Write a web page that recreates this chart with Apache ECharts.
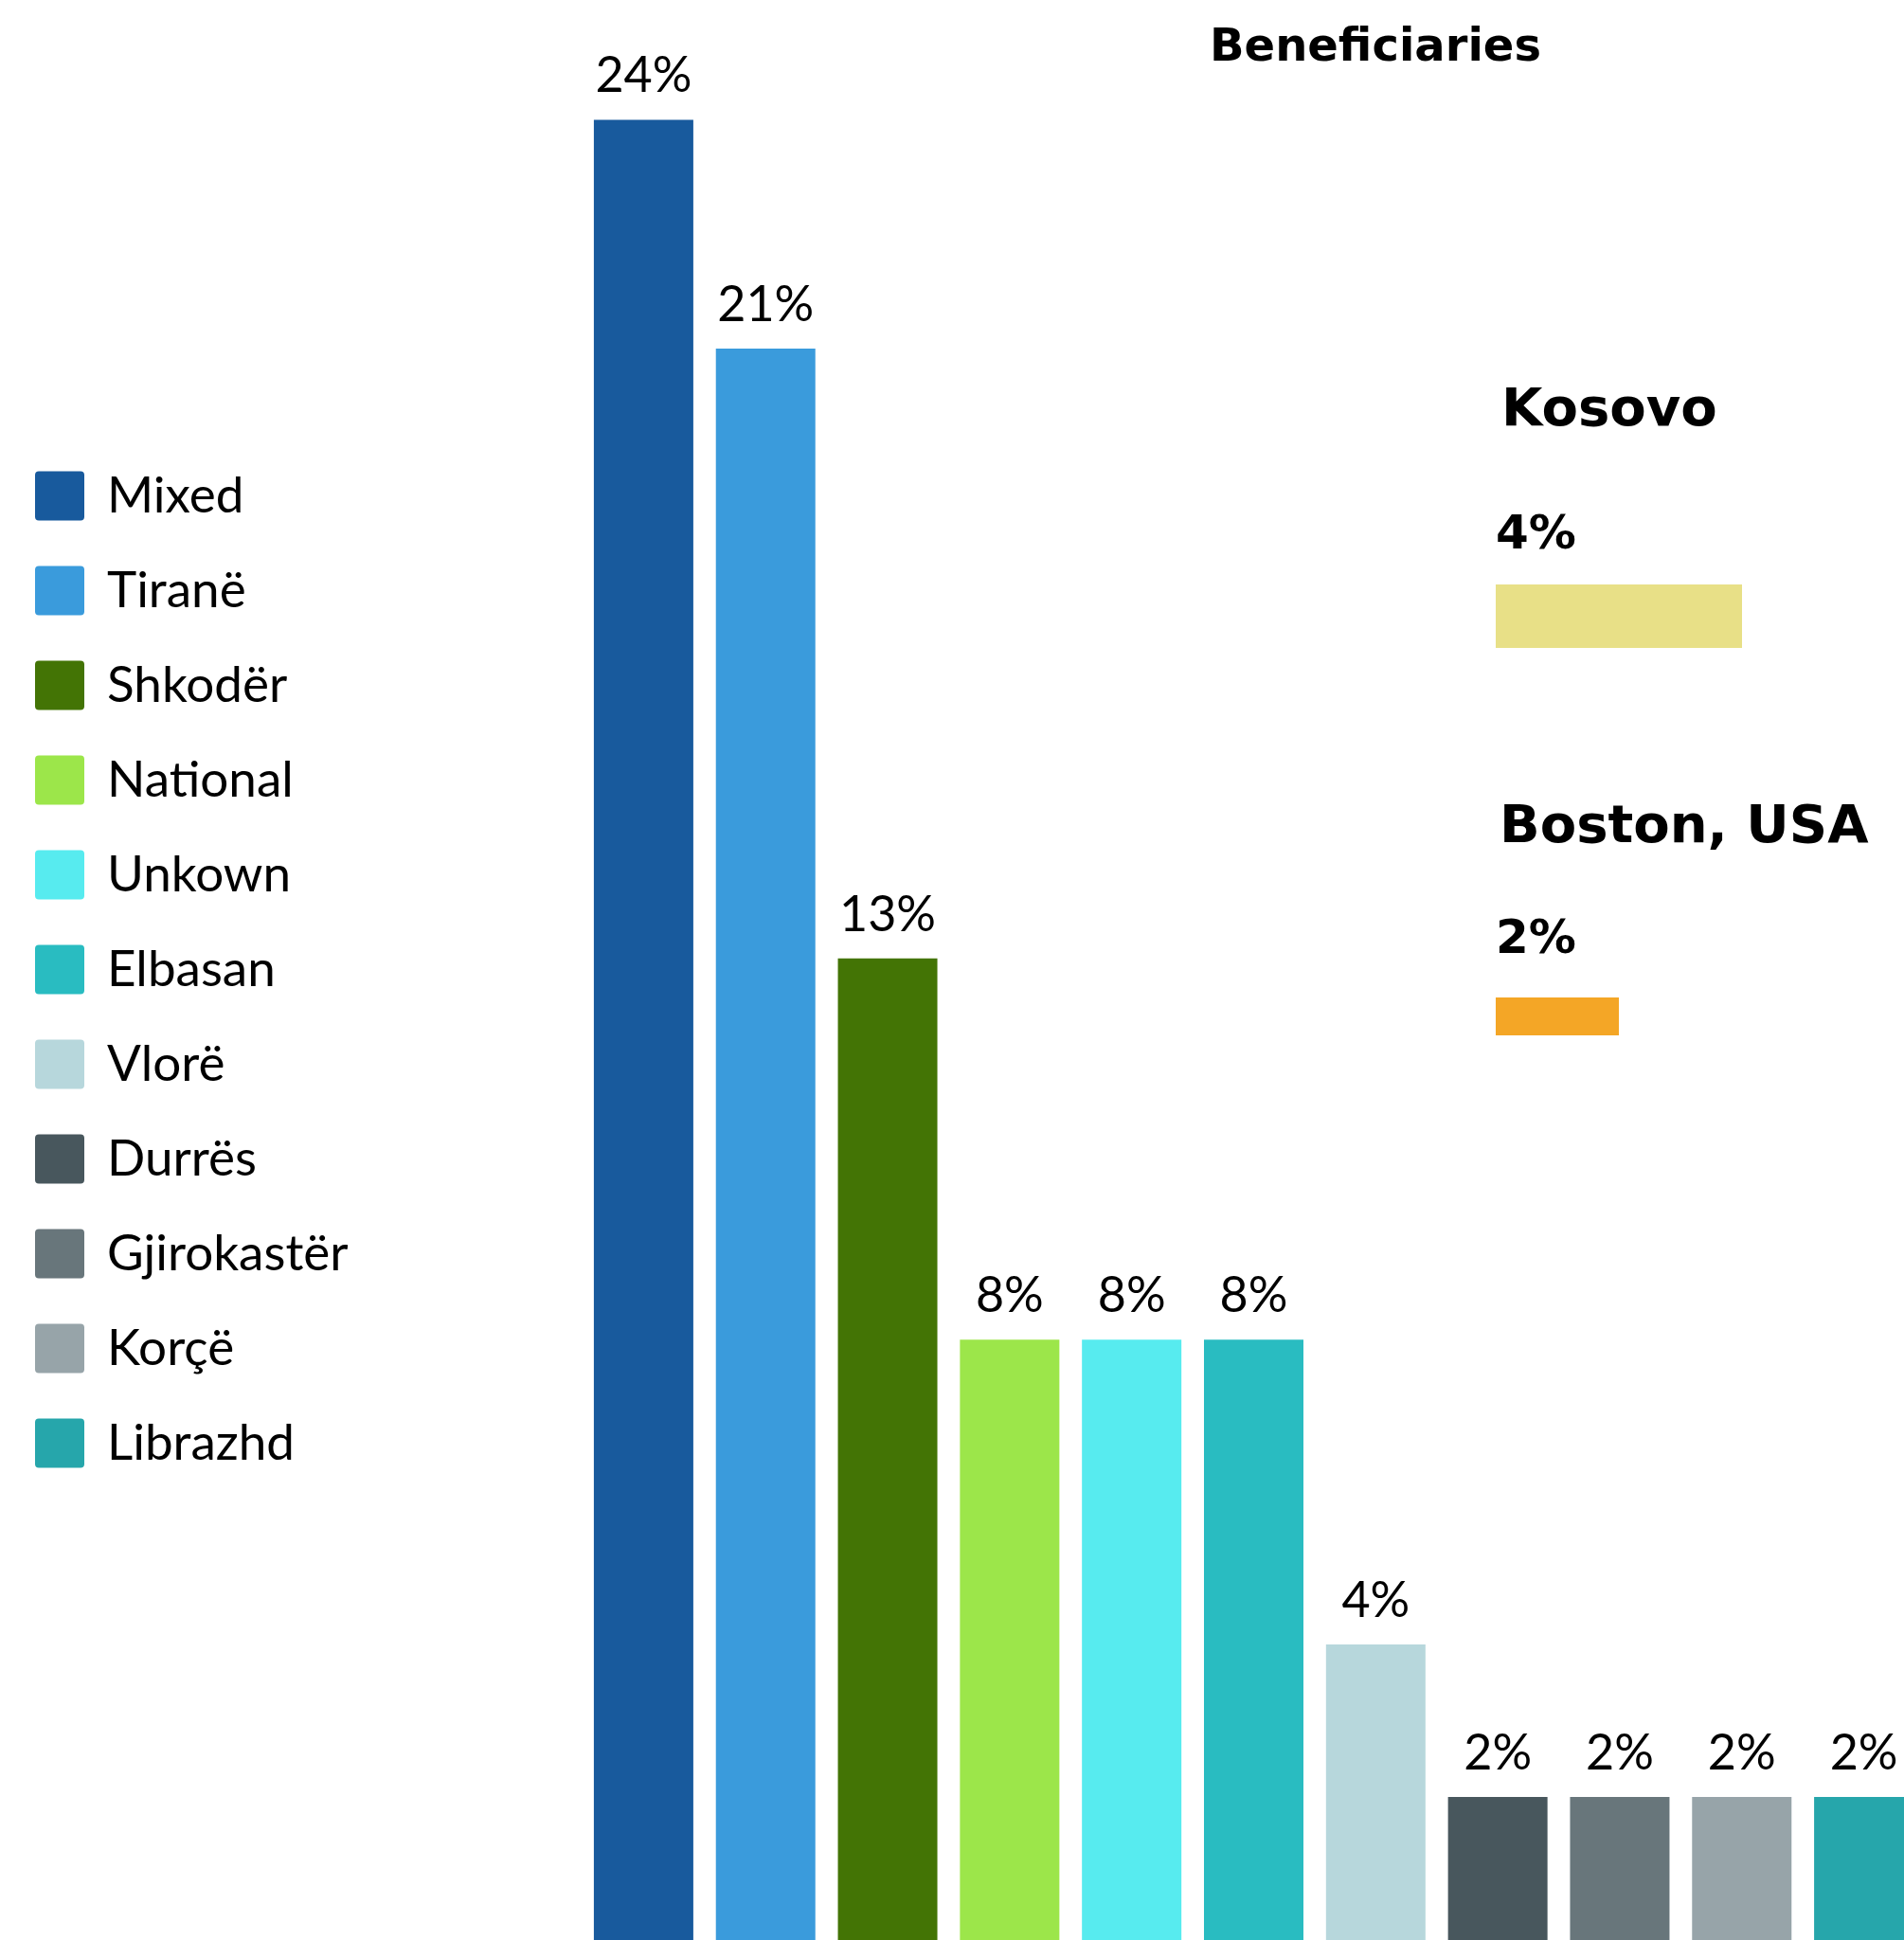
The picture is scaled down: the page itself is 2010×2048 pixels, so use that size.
<!DOCTYPE html>
<html>
<head>
<meta charset="utf-8">
<script src="https://cdn.jsdelivr.net/npm/echarts@6/dist/echarts.min.js"></script>
<style>
html,body{margin:0;padding:0;background:#fff;}
#c{width:2010px;height:2048px;}
</style>
</head>
<body>
<div id="c"></div>
<script>
// ---- data ----
var categories = ['Mixed','Tiranë','Shkodër','National','Unkown','Elbasan','Vlorë','Durrës','Gjirokastër','Korçë','Librazhd'];
var values = [24, 21, 13, 8, 8, 8, 4, 2, 2, 2, 2];
var colors = ['#185A9D','#3A9BDC','#437405','#9CE64A','#57EBEF','#29BCC1','#B7D7DC','#48575D','#68767B','#97A4A9','#26A6AB'];
var otherNames = ['Kosovo','Boston, USA'];
var otherValues = [4, 2];
var otherColors = ['#E8E087','#F4A626'];
var chartTitle = 'Beneficiaries';

var chart = echarts.init(document.getElementById('c'), null, {renderer:'canvas'});

var series = categories.map(function(name, i){
  var d = categories.map(function(_, j){ return j === i ? values[i] : '-'; });
  return {
    name: name,
    type: 'bar',
    stack: 'main',
    xAxisIndex: 0, yAxisIndex: 0,
    barWidth: 105,
    itemStyle: {color: colors[i]},
    label: {
      show: true, position: 'top', distance: 20,
      formatter: '{c}%',
      fontFamily: 'Lato', fontSize: 52, color: '#000'
    },
    data: d
  };
});

var sideLayout = [
  {top: 617, height: 67, labelDy: -51},
  {top: 1053, height: 40, labelDy: -60}
];
otherNames.forEach(function(name, k){
  series.push({
    name: name,
    type: 'bar',
    xAxisIndex: k + 1, yAxisIndex: k + 1,
    barWidth: '100%',
    itemStyle: {color: otherColors[k]},
    label: {
      show: true,
      position: [0, sideLayout[k].labelDy],
      align: 'left', verticalAlign: 'middle',
      formatter: '{c}%',
      fontFamily: 'DejaVu Sans', fontWeight: 'bold', fontSize: 50, color: '#000'
    },
    data: [otherValues[k]]
  });
});

var legendIcon = 'path://M4,0 H48 Q52,0 52,4 V48 Q52,52 48,52 H4 Q0,52 0,48 V4 Q0,0 4,0 Z';

var option = {
  backgroundColor: '#fff',
  animation: false,
  legend: {
    data: categories,
    orient: 'vertical',
    left: 37, top: 497,
    padding: 0,
    itemWidth: 52, itemHeight: 52, itemGap: 47,
    icon: legendIcon,
    textStyle: {fontFamily: 'Lato', fontSize: 53, lineHeight: 52, color: '#000', padding: [0,0,0,19]},
    selectedMode: false
  },
  grid: [
    {left: 615, top: 46, width: 1417, height: 2012, containLabel: false, outerBoundsMode: 'none'},
    {left: 1579, top: sideLayout[0].top, width: 260, height: sideLayout[0].height, outerBoundsMode: 'none'},
    {left: 1579, top: sideLayout[1].top, width: 260, height: sideLayout[1].height, outerBoundsMode: 'none'}
  ],
  xAxis: [
    {type: 'category', data: categories, gridIndex: 0, show: false},
    {type: 'value', gridIndex: 1, min: 0, max: 4, show: false},
    {type: 'value', gridIndex: 2, min: 0, max: 4, show: false}
  ],
  yAxis: [
    {type: 'value', gridIndex: 0, min: 0, max: 25, show: false},
    {type: 'category', gridIndex: 1, data: [otherNames[0]], show: false},
    {type: 'category', gridIndex: 2, data: [otherNames[1]], show: false}
  ],
  graphic: [
    {type: 'text', style: {x: 1452, y: 52, text: chartTitle, textAlign: 'center', textVerticalAlign: 'middle',
      font: 'bold 48px "DejaVu Sans"', fill: '#000'}},
    {type: 'text', style: {x: 1585, y: 434, text: otherNames[0], textAlign: 'left', textVerticalAlign: 'middle',
      font: 'bold 56px "DejaVu Sans"', fill: '#000'}},
    {type: 'text', style: {x: 1583, y: 874, text: otherNames[1], textAlign: 'left', textVerticalAlign: 'middle',
      font: 'bold 56px "DejaVu Sans"', fill: '#000'}}
  ],
  series: series
};
chart.setOption(option);
</script>
</body>
</html>
